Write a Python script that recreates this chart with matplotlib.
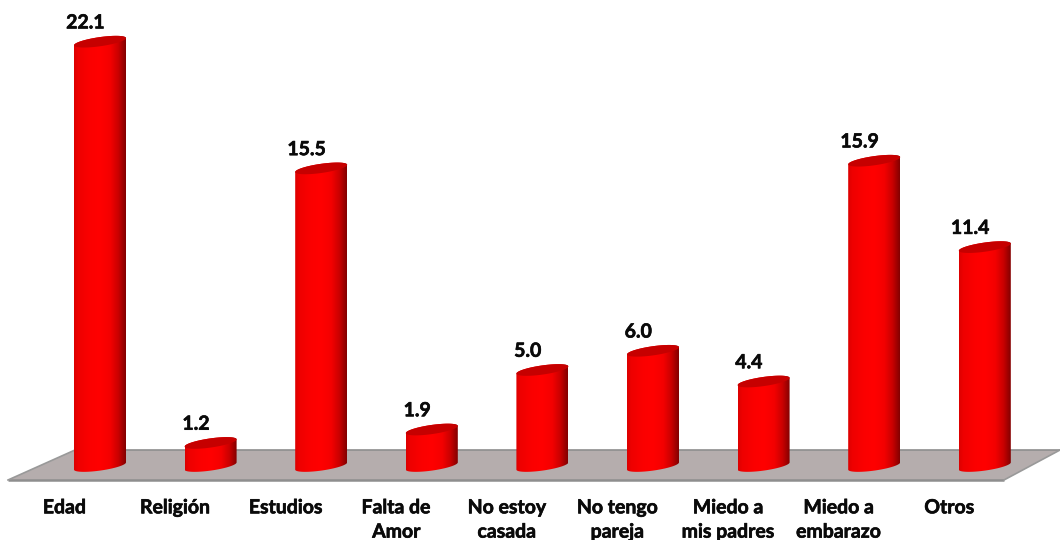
import numpy as np
import matplotlib
matplotlib.use("Agg")
import matplotlib.pyplot as plt
import matplotlib.patheffects as pe
from matplotlib.colors import LinearSegmentedColormap
from matplotlib.patches import Polygon, PathPatch
from matplotlib.path import Path

categories = ["Edad", "Religión", "Estudios", "Falta de\nAmor", "No estoy\ncasada",
              "No tengo\npareja", "Miedo a\nmis padres", "Miedo a\nembarazo", "Otros"]
values = [22.1, 1.2, 15.5, 1.9, 5.0, 6.0, 4.4, 15.9, 11.4]
value_labels = ["22.1", "1.2", "15.5", "1.9", "5.0", "6.0", "4.4", "15.9", "11.4"]

W, H = 1060, 540
PX_X = 110.6      # pixels per category
PX_Y = 19.2       # pixels per unit
X0, Y0 = 100, 466 # pixel position of category 0, value 0

fig = plt.figure(figsize=(W / 100, H / 100), dpi=100, facecolor="white")
ax = fig.add_axes([0, 0, 1, 1])
xlim = (-X0 / PX_X, (W - X0) / PX_X)
ylim = ((Y0 - H) / PX_Y, Y0 / PX_Y)
ax.axis("off")

# floor, given in axes fractions
def fr(px, py):
    return (px / W, 1 - py / H)

floor = Polygon([fr(8, 480), fr(75, 450), fr(1060, 450), fr(1004, 480)], closed=True,
                transform=ax.transAxes, facecolor="#b5adad", edgecolor="none", zorder=1)
ax.add_patch(floor)
ax.plot(*zip(fr(8, 480), fr(1004, 480)), transform=ax.transAxes, color="#8e8e8e", lw=1.8, zorder=1.2,
        solid_capstyle="butt")
ax.plot(*zip(fr(8, 480), fr(75, 450)), transform=ax.transAxes, color="#999999", lw=1.2, zorder=1.2)
ax.plot(*zip(fr(75, 450), fr(1060, 450)), transform=ax.transAxes, color="#8e8e8e", lw=1.2, zorder=1.2)
ax.plot(*zip(fr(1004, 480), fr(1060, 450)), transform=ax.transAxes, color="#999999", lw=1.2, zorder=1.2)

cmap = LinearSegmentedColormap.from_list("cyl", [
    (0.0, "#dc0000"), (0.08, "#ee0000"), (0.3, "#fb0000"), (0.5, "#ff0000"), (0.7, "#f40000"),
    (0.86, "#c80000"), (1.0, "#820000")])
grad = np.linspace(0, 1, 256).reshape(1, -1)

half = 26 / PX_X          # half width of a bar in category units
slope = 3.6 / PX_Y        # rise across half a bar, in value units
minor = 4.6 / PX_Y        # thickness of the ellipse, in value units
t = np.linspace(0, 2 * np.pi, 121)
heavy = [pe.withStroke(linewidth=0.45, foreground="#0a0a0a")]

for i, (v, lab) in enumerate(zip(values, value_labels)):
    # cylinder body
    tb = np.linspace(np.pi, 2 * np.pi, 60)
    xb = i + half * np.cos(tb)
    yb = slope * np.cos(tb) + minor * np.sin(tb)
    tt = np.linspace(0, np.pi, 60)
    xt = i + half * np.cos(tt)
    yt = v + slope * np.cos(tt) + minor * np.sin(tt)
    body = np.column_stack([np.r_[xb, xt], np.r_[yb, yt]])
    im = ax.imshow(grad, cmap=cmap, aspect="auto", zorder=3,
                   extent=[i - half, i + half, -1, v + 1], interpolation="bilinear")
    clip = PathPatch(Path(np.vstack([body, body[0]]), closed=True), transform=ax.transData,
                     facecolor="none", edgecolor="none")
    ax.add_patch(clip)
    im.set_clip_path(clip)
    # cap
    cap = np.column_stack([i + half * np.cos(t), v + slope * np.cos(t) + minor * np.sin(t)])
    ax.add_patch(Polygon(cap, closed=True, facecolor="#c60000", edgecolor="none", zorder=4))
    # value label
    ax.annotate(lab, (i, v), xytext=(-10.5, 13.5), textcoords="offset points", ha="center", va="center",
                fontfamily="Lato", fontweight="bold", fontsize=14, color="#0a0a0a", zorder=5,
                path_effects=heavy)
    # category label
    ax.annotate(categories[i], (i, 0), xytext=(-25.5, -24), textcoords="offset points",
                ha="center", va="top", fontfamily="Lato", fontweight="bold", fontsize=14,
                color="#0a0a0a", linespacing=1.52, zorder=5, annotation_clip=False,
                path_effects=heavy)

ax.set_xlim(*xlim)
ax.set_ylim(*ylim)
fig.savefig("out.png", dpi=100)
